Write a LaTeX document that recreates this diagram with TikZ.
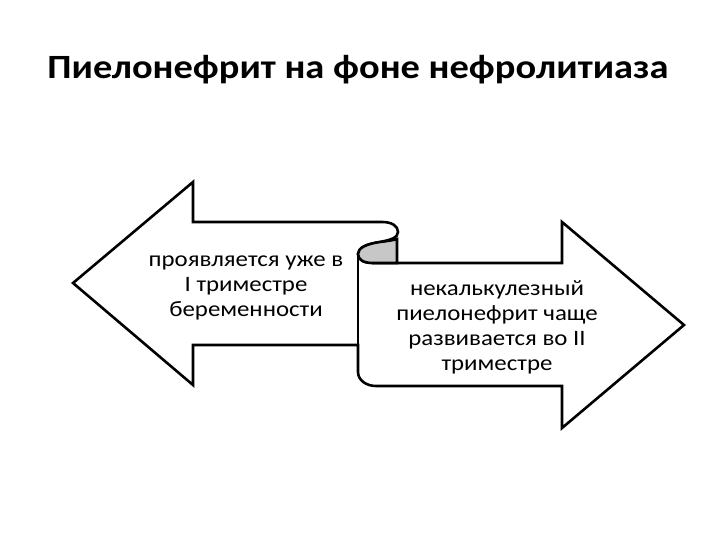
\documentclass[tikz,border=0pt]{standalone}
\usepackage{fontspec}
\setmainfont{Carlito}[FakeStretch=1.13]
\begin{document}
\begin{tikzpicture}[x=1pt,y=-1pt,
  outline/.style={line width=2.6pt, line join=miter, draw=black},
  body/.style={font=\fontsize{22}{25}\selectfont, align=center, inner sep=0pt},
  title/.style={font=\bfseries\fontsize{34}{40}\selectfont, inner sep=0pt}]
\useasboundingbox[fill=white] (0,0) rectangle (720,540);
% ribbon outline
\filldraw[outline, fill=white]
  (193,222) -- (382,222) .. controls (392,222) and (398,226) .. (398,232)
  .. controls (398,238) and (390,240) .. (380,242)
  .. controls (366,244) and (358,248) .. (358,254)
  .. controls (358,260) and (364,263) .. (373,263)
  -- (562,263) -- (562,222) -- (684,325) -- (562,428) -- (562,386)
  -- (376,386) .. controls (366,386) and (358,380) .. (358,372)
  -- (358,345) -- (193,345) -- (193,385) -- (73,283) -- (193,182) -- cycle;
% gray curl
\filldraw[outline, fill=black!22]
  (397,239) .. controls (394,240) and (388,241) .. (380,242)
  .. controls (366,244) and (358,248) .. (358,254)
  .. controls (358,260) and (364,263) .. (373,263)
  -- (397,263) -- cycle;
\draw[outline] (358,254) -- (358,345);
\node[title] (t) at (358,70) {Пиелонефрит на фоне нефролитиаза};
\node[body] (l) at (246,288) {проявляется уже в\\I триместре\\беременности};
\node[body] (r) at (497,327) {некалькулезный\\пиелонефрит чаще\\развивается во II\\триместре};
\end{tikzpicture}
\end{document}
